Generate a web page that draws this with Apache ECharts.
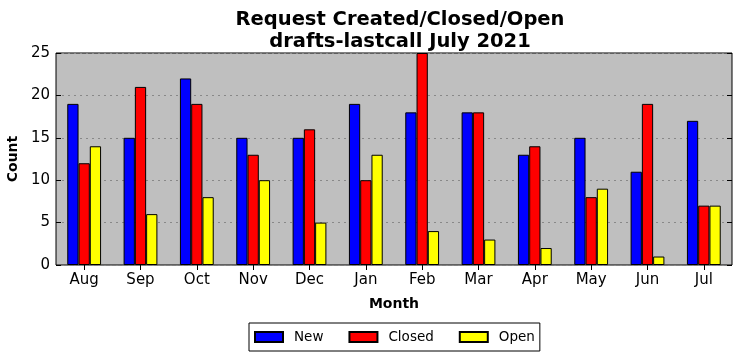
<!DOCTYPE html>
<html><head><meta charset="utf-8">
<script src="https://cdn.jsdelivr.net/npm/echarts@6/dist/echarts.min.js"></script>
<style>html,body{margin:0;padding:0;background:#fff}#c{width:742px;height:361px}</style>
</head><body><div id="c"></div>
<script>
const months = ['Aug','Sep','Oct','Nov','Dec','Jan','Feb','Mar','Apr','May','Jun','Jul'];
const newVals = [19,15,22,15,15,19,18,18,13,15,11,17];
const closedVals = [12,21,19,13,16,10,25,18,14,8,19,7];
const openVals = [14,6,8,10,5,13,4,3,2,9,1,7];
const yTicks = [0,5,10,15,20,25];

const font = 'DejaVu Sans';
const chart = echarts.init(document.getElementById('c'), null, {renderer:'canvas'});
function bar(name, data, color){
  return {name, type:'bar', data, barWidth:'20%', barGap:'0%', xAxisIndex:0, yAxisIndex:0,
    itemStyle:{color, borderColor:'#000', borderWidth:1}, emphasis:{disabled:true}};
}
chart.setOption({
  animation:false,
  textStyle:{fontFamily:font},
  title:{text:'Request Created/Closed/Open\ndrafts-lastcall July 2021', left:395, textAlign:'center', top:4,
    textStyle:{fontFamily:font, fontWeight:'bold', fontSize:19.5, color:'#000', lineHeight:22}},
  grid:{left:56, right:10, top:53, bottom:96, outerBoundsMode:'none', containLabel:false, show:true, backgroundColor:'#bfbfbf', borderColor:'#000', borderWidth:1},
  legend:{bottom:10, left:249, itemWidth:28, itemHeight:10, itemGap:25, padding:[7,5,7,5],
    borderColor:'#000', borderWidth:1, borderRadius:0, icon:'rect',
    textStyle:{fontFamily:font, fontSize:13.5, color:'#000', padding:[0,0,0,6]}, data:['New','Closed','Open']},
  xAxis:[
    {type:'category', data:months, position:'bottom', name:'Month', nameLocation:'middle', nameGap:32,
     nameTextStyle:{fontFamily:font, fontWeight:'bold', fontSize:14, color:'#000'},
     axisLine:{show:false}, axisTick:{show:true, inside:true, alignWithLabel:true, length:5, lineStyle:{color:'#000'}},
     axisLabel:{fontFamily:font, fontSize:15, color:'#000', margin:8}, splitLine:{show:false}},
    {type:'category', data:months, position:'top',
     axisLine:{show:false}, axisTick:{show:true, inside:true, alignWithLabel:true, length:5, lineStyle:{color:'#000'}},
     axisLabel:{show:false}, splitLine:{show:false}}
  ],
  yAxis:[
    {type:'value', min:0, max:25, interval:5, position:'left', name:'Count', nameLocation:'middle', nameGap:31,
     nameTextStyle:{fontFamily:font, fontWeight:'bold', fontSize:14, color:'#000'},
     axisLine:{show:false}, axisTick:{show:true, inside:true, length:5, lineStyle:{color:'#000'}},
     axisLabel:{fontFamily:font, fontSize:15, color:'#000', margin:6,
       formatter:v=>yTicks.includes(v)?String(v):''},
     splitLine:{show:true, lineStyle:{color:'#888', type:[2,4], width:1}}},
    {type:'value', min:0, max:25, interval:5, position:'right',
     axisLine:{show:false}, axisTick:{show:true, inside:true, length:5, lineStyle:{color:'#000'}},
     axisLabel:{show:false}, splitLine:{show:false}}
  ],
  series:[bar('New', newVals, '#0000ff'), bar('Closed', closedVals, '#ff0000'), bar('Open', openVals, '#ffff00')]
});
</script></body></html>
